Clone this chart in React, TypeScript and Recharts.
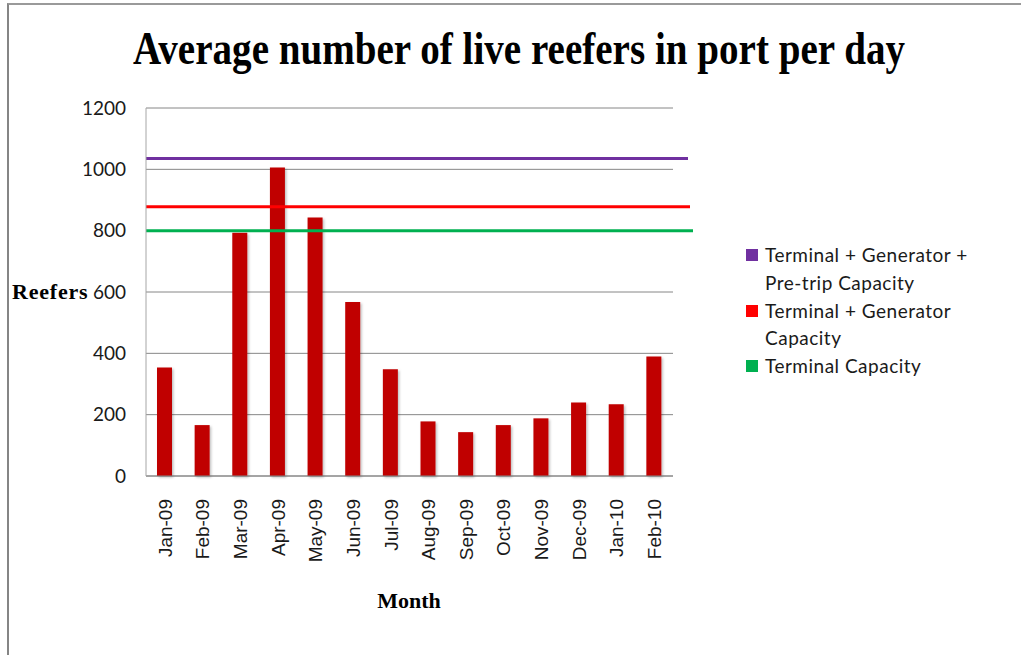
import React from 'react';
import { BarChart, Bar, XAxis, YAxis, CartesianGrid, ReferenceLine, Legend, Label } from 'recharts';

const months = ['Jan-09', 'Feb-09', 'Mar-09', 'Apr-09', 'May-09', 'Jun-09', 'Jul-09', 'Aug-09', 'Sep-09', 'Oct-09', 'Nov-09', 'Dec-09', 'Jan-10', 'Feb-10'];
const reefers = [354, 166, 793, 1006, 843, 567, 348, 178, 143, 166, 188, 240, 234, 390];

const capacityLabels = [
  ['Terminal + Generator +', 'Pre-trip Capacity'],
  ['Terminal + Generator', 'Capacity'],
  ['Terminal Capacity'],
];
const capacityValues = [1035, 878, 800];
const capacityColors = ['#7030A0', '#FF0000', '#00B050'];
const capacityOverhang = [15, 17, 20];

const yTicks = [0, 200, 400, 600, 800, 1000, 1200];

const title = 'Average number of live reefers in port per day';
const yTitle = 'Reefers';
const xTitle = 'Month';

const data = months.map((m, i) => ({ month: m, reefers: reefers[i] }));

const XTick = (props: any) => {
  const { x, y, payload } = props;
  const ty = y + 23;
  return (
    <text
      x={x}
      y={ty}
      transform={`rotate(-90, ${x}, ${ty})`}
      textAnchor="end"
      dy="0.36em"
      fontFamily="'Liberation Sans', Arial, sans-serif"
      fontSize={19}
      fill="#1a1a1a"
    >
      {payload.value}
    </text>
  );
};

const LEGEND_W = 260;

const LegendContent = () => {
  let row = 0;
  const lh = 27.8;
  const items: any[] = [];
  capacityLabels.forEach((lines, i) => {
    const startRow = row;
    items.push(
      <div key={i} style={{ position: 'absolute', left: 0, top: startRow * lh, display: 'flex' }}>
        <div style={{ width: 12, height: 12, background: capacityColors[i], marginTop: 8, marginRight: 7 }} />
        <div style={{ lineHeight: `${lh}px` }}>
          {lines.map((l, j) => (
            <div key={j} style={{ whiteSpace: 'nowrap' }}>{l}</div>
          ))}
        </div>
      </div>
    );
    row += lines.length;
  });
  return (
    <div style={{ position: 'relative', width: LEGEND_W, height: row * lh, fontFamily: 'Lato, sans-serif', fontSize: 19, letterSpacing: 0.5, color: '#1a1a1a' }}>
      {items}
    </div>
  );
};

export default function App() {
  return (
    <div style={{ position: 'absolute', left: 0, top: 0, width: 1021, height: 655, background: '#fff', overflow: 'hidden' }}>
      <div style={{ position: 'absolute', left: 7, top: 3, width: 1020, height: 660, borderLeft: '2px solid #858585', borderTop: '2px solid #9a9a9a', boxSizing: 'border-box' }} />
      <svg width={1021} height={100} style={{ position: 'absolute', left: 0, top: 0 }}>
        <g transform="translate(519, 64) scale(1, 1.3)">
          <text
            x={0}
            y={0}
            textAnchor="middle"
            fontFamily="'Liberation Serif', 'Times New Roman', serif"
            fontWeight="bold"
            fontSize={36}
            textLength={772}
            lengthAdjust="spacingAndGlyphs"
            fill="#000"
          >
            {title}
          </text>
        </g>
      </svg>
      <div style={{ position: 'absolute', left: 0, top: 0 }}>
        <BarChart width={1021} height={655} data={data} margin={{ top: 108, right: 348 - LEGEND_W, bottom: 79, left: 86 }} barCategoryGap={0}>
          <defs>
            <filter id="barShadow" x="-30%" y="-5%" width="170%" height="115%">
              <feDropShadow dx={1.5} dy={1.5} stdDeviation={1} floodColor="#000" floodOpacity={0.25} />
            </filter>
          </defs>
          <CartesianGrid vertical={false} stroke="#868686" strokeWidth={1} />
          <XAxis
            dataKey="month"
            height={100}
            interval={0}
            tickLine={false}
            tickSize={0}
            tickMargin={0}
            axisLine={{ stroke: '#868686' }}
            tick={<XTick />}
          >
            <Label
              content={() => (
                <text x={409} y={608} textAnchor="middle" fontFamily="'Liberation Serif', 'Times New Roman', serif" fontWeight="bold" fontSize={22} fill="#000">
                  {xTitle}
                </text>
              )}
            />
          </XAxis>
          <YAxis
            width={60}
            domain={[0, 1200]}
            ticks={yTicks}
            interval={0}
            tickLine={false}
            tickSize={0}
            tickMargin={20}
            axisLine={{ stroke: '#a6a6a6' }}
            tick={{ fontFamily: 'Lato, sans-serif', fontSize: 19, fill: '#1a1a1a' }}
          >
            <Label
              content={() => (
                <text x={12} y={299} textAnchor="start" fontFamily="'Liberation Serif', 'Times New Roman', serif" fontWeight="bold" fontSize={22} letterSpacing={0.8} fill="#000">
                  {yTitle}
                </text>
              )}
            />
          </YAxis>
          <Bar dataKey="reefers" fill="#C00000" barSize={15} isAnimationActive={false} filter="url(#barShadow)" />
          {capacityValues.map((v, i) => (
            <ReferenceLine
              key={i}
              y={v}
              ifOverflow="visible"
              shape={(p: any) => (
                <line x1={p.x1} y1={p.y1} x2={p.x2 + capacityOverhang[i]} y2={p.y2} stroke={capacityColors[i]} strokeWidth={3} />
              )}
            />
          ))}
          <Legend
            layout="vertical"
            align="right"
            verticalAlign="middle"
            content={<LegendContent />}
            wrapperStyle={{ position: 'absolute', left: 746, top: 241, width: LEGEND_W }}
          />
        </BarChart>
      </div>
    </div>
  );
}
